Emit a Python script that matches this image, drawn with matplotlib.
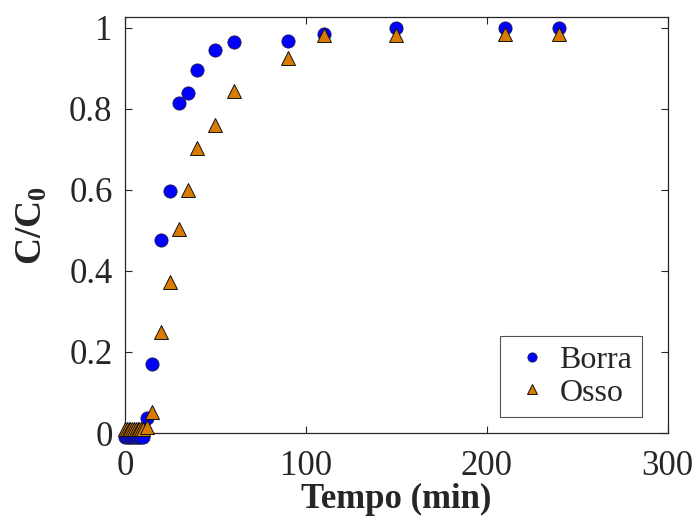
import matplotlib
matplotlib.use("Agg")
import matplotlib.pyplot as plt

# Breakthrough data: time (min) and normalized concentration C/C0
tempo_borra = [0, 1, 2, 3, 4, 5, 6, 7, 8, 9, 10, 12, 15, 20, 25, 30, 35, 40, 50, 60, 90, 110, 150, 210, 240]
cc0_borra = [-0.01, -0.01, -0.01, -0.01, -0.01, -0.01, -0.01, -0.01, -0.01, -0.01, -0.01, 0.038,
             0.170, 0.477, 0.597, 0.814, 0.839, 0.896, 0.945, 0.965, 0.968, 0.984, 0.999, 0.998, 0.998]

tempo_osso = [0, 1, 2, 3, 4, 5, 6, 7, 8, 9, 10, 12, 15, 20, 25, 30, 35, 40, 50, 60, 90, 110, 150, 210, 240]
cc0_osso = [0.01, 0.01, 0.01, 0.01, 0.01, 0.01, 0.01, 0.01, 0.01, 0.01, 0.01, 0.015,
            0.053, 0.248, 0.372, 0.502, 0.600, 0.702, 0.760, 0.844, 0.926, 0.981, 0.981, 0.983, 0.983]

x_ticks = [0, 100, 200, 300]
y_ticks = [0, 0.2, 0.4, 0.6, 0.8, 1]
y_tick_labels = ["0", "0.2", "0.4", "0.6", "0.8", "1"]

plt.rcParams["font.family"] = ["Liberation Serif", "DejaVu Serif"]
plt.rcParams["mathtext.fontset"] = "custom"
plt.rcParams["mathtext.rm"] = "Liberation Serif"
plt.rcParams["mathtext.bf"] = "Liberation Serif:bold"

txt = "#262626"
fig = plt.figure(figsize=(7.0, 5.26), dpi=100)
ax = fig.add_axes([0.1786, 0.1768, 0.7754, 0.7909])

ax.plot(tempo_borra, cc0_borra, linestyle="none", marker="o", markersize=9.5,
        markerfacecolor="#0000ff", markeredgecolor="#1a1a4a", markeredgewidth=0.6,
        clip_on=False, label="Borra", zorder=3)
ax.plot(tempo_osso, cc0_osso, linestyle="none", marker="^", markersize=10,
        markerfacecolor="#d97b00", markeredgecolor="#111111", markeredgewidth=0.7,
        clip_on=False, label="Osso", zorder=4)

ax.set_xlim(0, 300)
ax.set_ylim(0, 1.026)
ax.set_xticks(x_ticks)
ax.set_yticks(y_ticks)
ax.set_yticklabels(y_tick_labels)

ax.tick_params(direction="in", length=5, width=0.8, top=True, right=True,
               labelsize=25, colors=txt)
ax.tick_params(axis="y", pad=9)
ax.tick_params(axis="x", pad=12)
for s in ax.spines.values():
    s.set_color(txt)
    s.set_linewidth(0.9)

ax.set_xlabel("Tempo (min)", fontsize=25, fontweight="bold", color=txt, labelpad=0)
ax.set_ylabel(r"$\mathbf{C/C_0}$", fontsize=27, color=txt, labelpad=14)

leg = ax.legend(loc="lower right", bbox_to_anchor=(0.952, 0.038), borderaxespad=0,
                fontsize=23, frameon=True, fancybox=False, edgecolor=txt,
                handlelength=1.4, handletextpad=0.15, markerscale=0.7,
                labelspacing=0.1, borderpad=0.3)
leg.get_frame().set_linewidth(0.8)
for t in leg.get_texts():
    t.set_color(txt)

fig.savefig("out.png", dpi=100)
